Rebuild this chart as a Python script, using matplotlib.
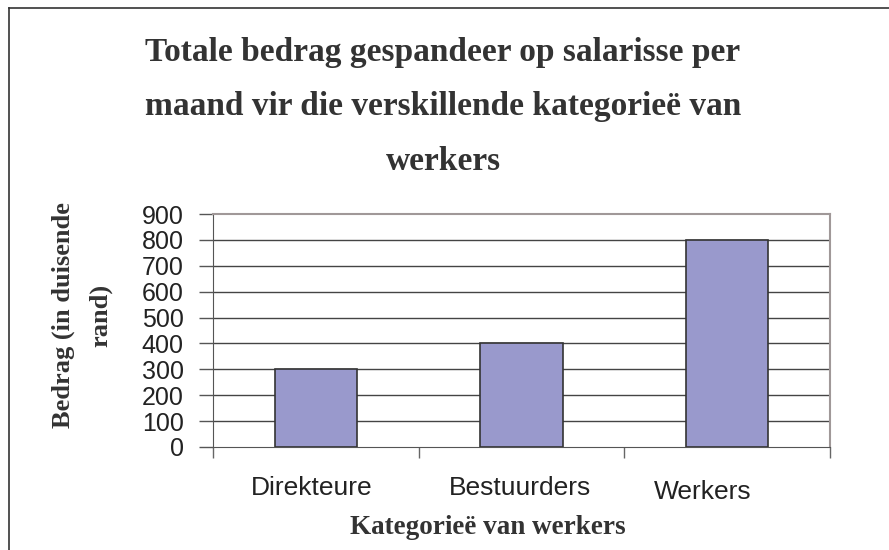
import matplotlib.pyplot as plt
from matplotlib.lines import Line2D

# data
categories = ['Direkteure', 'Bestuurders', 'Werkers']
amounts = [300, 400, 800]
y_ticks = [0, 100, 200, 300, 400, 500, 600, 700, 800, 900]

W, H = 889, 550
fig = plt.figure(figsize=(W / 100, H / 100), dpi=100)

# outer chart frame (only top and left edges show in the original)
fig.add_artist(Line2D([9 / W, 9 / W], [0, 1 - 8 / H], color='#333333', lw=1.2,
                      transform=fig.transFigure))
fig.add_artist(Line2D([9 / W, 1], [1 - 8 / H, 1 - 8 / H], color='#333333', lw=1.2,
                      transform=fig.transFigure))

left, right, top, bottom = 213, 830, 214, 447
ax = fig.add_axes([left / W, 1 - bottom / H, (right - left) / W, (bottom - top) / H])

x = range(len(categories))
ax.bar(x, amounts, width=0.4, color='#9999cc', edgecolor='#333333', linewidth=1.2, zorder=3)

ax.set_xlim(-0.5, 2.5)
ax.set_ylim(0, 900)
ax.set_yticks(y_ticks)
ax.set_yticklabels([str(v) for v in y_ticks], fontsize=18, family='Liberation Sans', color='#222222')
for v in y_ticks[1:-1]:
    ax.axhline(v, color='#444444', lw=1.0, zorder=1)

# tick marks between the groups, labels placed by hand like the original
ax.set_xticks([-0.5, 0.5, 1.5, 2.5])
ax.set_xticklabels([])
ax.tick_params(axis='x', length=8, color='#666666', width=1)
ax.tick_params(axis='y', length=10, color='#555555', width=1, pad=11)

label_x = [312, 520, 703]   # Werkers sits a bit left of its bar in the original
label_y = [488, 488, 492]
for name, lx, ly in zip(categories, label_x, label_y):
    fig.text(lx / W, 1 - ly / H, name, ha='center', va='center',
             fontsize=19, family='Liberation Sans', color='#222222')

for side in ['top', 'right']:
    ax.spines[side].set_color('#a09898')
    ax.spines[side].set_linewidth(1.5)
ax.spines['left'].set_color('#555555')
ax.spines['bottom'].set_color('#555555')

fig.text(443 / W, 1 - 107 / H,
         'Totale bedrag gespandeer op salarisse per\nmaand vir die verskillende kategorieë van\nwerkers',
         ha='center', va='center', fontsize=24, fontweight='bold', family='Liberation Serif',
         color='#333333', linespacing=1.98)

fig.text(488 / W, 1 - 528 / H, 'Kategorieë van werkers', ha='center', va='center',
         fontsize=19.5, fontweight='bold', family='Liberation Serif', color='#333333')

fig.text(82 / W, 1 - 315 / H, 'Bedrag (in duisende\nrand)', ha='center', va='center',
         rotation=90, fontsize=19, fontweight='bold', family='Liberation Serif',
         color='#333333', linespacing=1.8)

fig.savefig('out.png', dpi=100)
